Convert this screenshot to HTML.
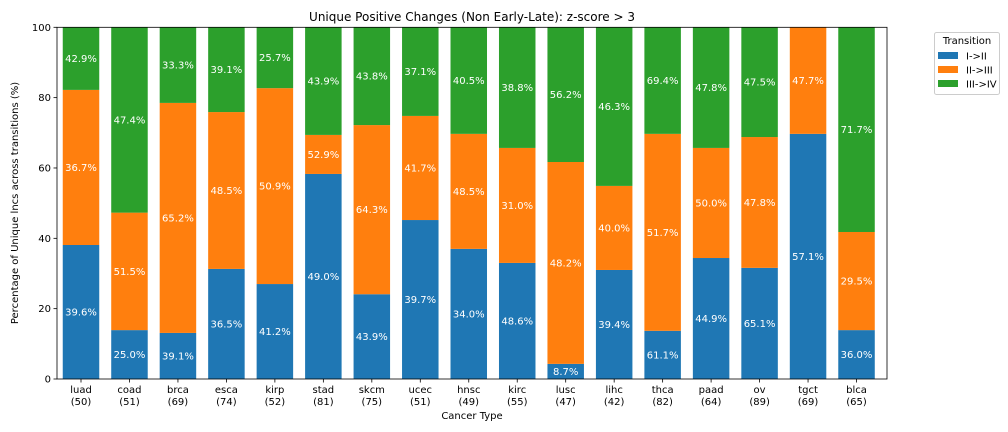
<!DOCTYPE html>
<html><head><meta charset="utf-8"><style>
body{margin:0;background:#fff;}
svg{display:block;font-family:"DejaVu Sans","Liberation Sans",sans-serif;}
</style></head><body>
<svg id="chart" width="1008" height="432" viewBox="0 0 1008 432">
<rect x="0" y="0" width="1008" height="432" fill="#fff"/>
<text x="472" y="21" font-size="12" text-anchor="middle" fill="#000">Unique Positive Changes (Non Early-Late): z-score &gt; 3</text>
<g id="bars"></g>
<g id="axes"></g>
<text x="0" y="0" font-size="10" text-anchor="middle" transform="translate(18,203) rotate(-90)">Percentage of Unique lncs across transitions (%)</text>
<text x="472" y="419" font-size="10" text-anchor="middle">Cancer Type</text>
<g>
<rect x="934.5" y="32.5" width="65" height="62" fill="#fff" stroke="#ccc" rx="2"/>
<text x="967" y="44" font-size="10" text-anchor="middle">Transition</text>
<rect x="938" y="52" width="20" height="7" fill="#1f77b4"/>
<text x="966" y="59.5" font-size="10">I-&gt;II</text>
<rect x="938" y="66" width="20" height="7" fill="#ff7f0e"/>
<text x="966" y="73.5" font-size="10">II-&gt;III</text>
<rect x="938" y="80" width="20" height="7" fill="#2ca02c"/>
<text x="966" y="87.5" font-size="10">III-&gt;IV</text>
</g>
</svg>
<script>
const categories = ["luad","coad","brca","esca","kirp","stad","skcm","ucec","hnsc","kirc","lusc","lihc","thca","paad","ov","tgct","blca"];
const counts = [50,51,69,74,52,81,75,51,49,55,47,42,82,64,89,69,65];
const seriesI_II = [38.1,13.9,13.1,31.3,27.0,58.3,24.1,45.2,37.0,33.0,4.3,31.0,13.7,34.4,31.6,69.7,13.9];
const seriesII_III = [44.1,33.4,65.4,44.6,55.7,11.1,48.1,29.6,32.7,32.7,57.4,23.9,56.0,31.3,37.2,30.3,27.9];
const seriesIII_IV = [17.8,52.7,21.5,24.1,17.3,30.6,27.8,25.2,30.3,34.3,38.3,45.1,30.3,34.3,31.2,0,58.2];
const labelsI_II = ["39.6%","25.0%","39.1%","36.5%","41.2%","49.0%","43.9%","39.7%","34.0%","48.6%","8.7%","39.4%","61.1%","44.9%","65.1%","57.1%","36.0%"];
const labelsII_III = ["36.7%","51.5%","65.2%","48.5%","50.9%","52.9%","64.3%","41.7%","48.5%","31.0%","48.2%","40.0%","51.7%","50.0%","47.8%","47.7%","29.5%"];
const labelsIII_IV = ["42.9%","47.4%","33.3%","39.1%","25.7%","43.9%","43.8%","37.1%","40.5%","38.8%","56.2%","46.3%","69.4%","47.8%","47.5%","","71.7%"];
const yTicks = [0,20,40,60,80,100];

const NS="http://www.w3.org/2000/svg";
const X0=57,X1=887,Y0=379,Y1=27.3;
const step=48.47, first=81, bw=36.5;
const xPos=i=>first+i*step;
const yPos=v=>Y0-(v/100)*(Y0-Y1);
function mk(t,a,p){const e=document.createElementNS(NS,t);for(const k in a)e.setAttribute(k,a[k]);p.appendChild(e);return e;}
const bars=document.getElementById('bars'), axes=document.getElementById('axes');
const series=[[seriesI_II,labelsI_II,"#1f77b4","i-ii"],[seriesII_III,labelsII_III,"#ff7f0e","ii-iii"],[seriesIII_IV,labelsIII_IV,"#2ca02c","iii-iv"]];
categories.forEach((c,i)=>{
  let base=0;
  series.forEach(([vals,labs,col,nm])=>{
    const v=vals[i]; const top=Math.min(100,base+v);
    const r=mk('rect',{x:xPos(i)-bw/2,y:yPos(top),width:bw,height:yPos(base)-yPos(top),fill:col},bars);
    
    
    if(labs[i]){
      const t=mk('text',{x:xPos(i),y:(yPos(base)+yPos(top))/2+3.5,'font-size':10,fill:'#fff','text-anchor':'middle'},bars);
      t.textContent=labs[i];
      
      
    }
    base=top;
  });
  const tk=mk('line',{x1:xPos(i),x2:xPos(i),y1:Y0,y2:Y0+3.5,stroke:'#000','stroke-width':0.8},axes);
  
  
  const t1=mk('text',{x:xPos(i),y:393,'font-size':10,'text-anchor':'middle'},axes);
  t1.textContent=c;
  
  
  const t2=mk('text',{x:xPos(i),y:405,'font-size':10,'text-anchor':'middle'},axes);
  t2.textContent='('+counts[i]+')';
  
  
});
yTicks.forEach(v=>{
  const l=mk('line',{x1:X0-3.5,x2:X0,y1:yPos(v),y2:yPos(v),stroke:'#000','stroke-width':0.8},axes);
  
  
  const t=mk('text',{x:X0-6,y:yPos(v)+3.5,'font-size':10,'text-anchor':'end'},axes);
  t.textContent=v;
  
  
});
const fr=mk('rect',{x:X0,y:Y1,width:X1-X0,height:Y0-Y1,fill:'none',stroke:'#000','stroke-width':0.8},axes);


</script>
</body></html>
